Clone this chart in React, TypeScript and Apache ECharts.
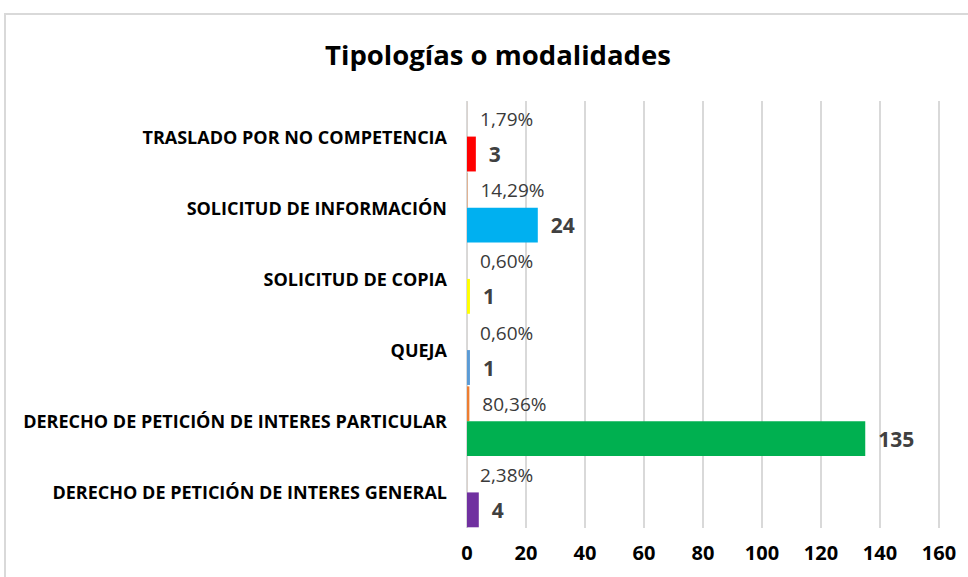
import React, { useEffect, useRef } from "react";
import * as echarts from "echarts";

const categories = [
  "DERECHO DE PETICIÓN DE INTERES GENERAL",
  "DERECHO DE PETICIÓN DE INTERES PARTICULAR",
  "QUEJA",
  "SOLICITUD DE COPIA",
  "SOLICITUD DE INFORMACIÓN",
  "TRASLADO POR NO COMPETENCIA",
];
const counts = [4, 135, 1, 1, 24, 3];
const shares = [0.0238, 0.8036, 0.006, 0.006, 0.1429, 0.0179];
const countColors = ["#7030A0", "#00B050", "#5B9BD5", "#FFFF00", "#00B0F0", "#FF0000"];
const xTicks = { min: 0, max: 160, interval: 20 };
const titleText = "Tipologías o modalidades";

const FONT = "'Open Sans', sans-serif";

export default function App() {
  const ref = useRef<HTMLDivElement>(null);
  useEffect(() => {
    if (!ref.current) return;
    const chart = echarts.init(ref.current, null, { renderer: "svg" });
    chart.setOption({
      animation: false,
      backgroundColor: "#ffffff",
      title: {
        text: titleText,
        left: 493,
        textAlign: "center",
        top: 35,
        textStyle: { fontFamily: FONT, fontSize: 27.5, fontWeight: "bold", color: "#000" },
      },
      graphic: [
        {
          type: "rect",
          shape: { x: 5, y: 14, width: 1000, height: 700 },
          style: { fill: "none", stroke: "#d9d9d9", lineWidth: 2 },
          silent: true,
        },
      ],
      grid: { left: 467, right: 29, top: 101, bottom: 49, containLabel: false },
      xAxis: {
        type: "value",
        min: xTicks.min,
        max: xTicks.max,
        interval: xTicks.interval,
        axisLine: { show: false },
        axisTick: { show: false },
        splitLine: { show: true, lineStyle: { color: "#d9d9d9", width: 2 } },
        axisLabel: {
          margin: 14,
          fontFamily: FONT,
          fontSize: 20,
          fontWeight: "bold",
          color: "#000",
        },
      },
      yAxis: {
        type: "category",
        data: categories,
        axisLine: { show: false },
        axisTick: { show: false },
        axisLabel: {
          margin: 20,
          fontFamily: FONT,
          fontSize: 18,
          fontWeight: "bold",
          color: "#000",
        },
      },
      series: [
        {
          name: "Porcentaje",
          type: "bar",
          barGap: "0%",
          barCategoryGap: "2%",
          data: shares,
          itemStyle: { color: "#ED7D31" },
          label: {
            show: true,
            position: "right",
            distance: 13,
            fontFamily: FONT,
            fontSize: 19,
            color: "#3a3a3a",
            formatter: (p: any) => (p.value * 100).toFixed(2).replace(".", ",") + "%",
          },
        },
        {
          name: "Cantidad",
          type: "bar",
          barGap: "0%",
          barCategoryGap: "2%",
          data: counts.map((v, i) => ({ value: v, itemStyle: { color: countColors[i] } })),
          label: {
            show: true,
            position: "right",
            distance: 13,
            fontFamily: FONT,
            fontSize: 21,
            fontWeight: "bold",
            color: "#404040",
          },
        },
      ],
    });
    return () => chart.dispose();
  }, []);
  return (
    <div
      ref={ref}
      style={{ position: "fixed", left: 0, top: 0, width: 968, height: 577 }}
    />
  );
}
